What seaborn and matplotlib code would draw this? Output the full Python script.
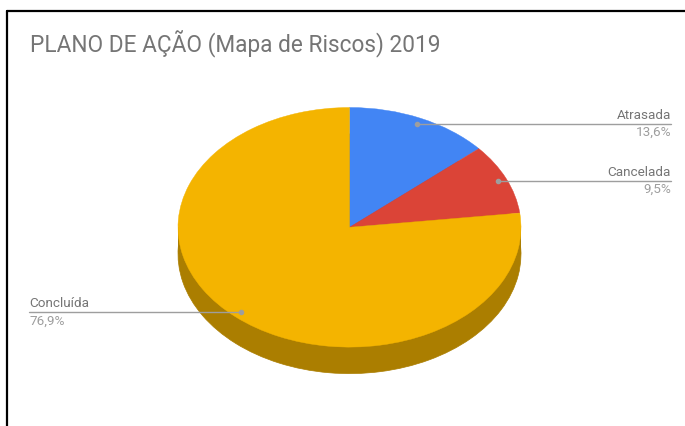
import numpy as np
import matplotlib
matplotlib.use("Agg")
import matplotlib.pyplot as plt
from matplotlib.patches import Rectangle
from matplotlib.lines import Line2D
import seaborn as sns

# data
labels = ["Atrasada", "Cancelada", "Concluída"]
values = [13.6, 9.5, 76.9]
colors = ["#4285F4", "#DB4437", "#F4B400"]
side_colors = ["#2E5DAA", "#992F26", "#AB7E00"]
title = "PLANO DE AÇÃO (Mapa de Riscos) 2019"

sns.set_theme(style="white")
plt.rcParams['font.family'] = ['Roboto', 'DejaVu Sans']

W, H = 685, 426
fig = plt.figure(figsize=(W / 100, H / 100), dpi=100)
fig.patch.set_facecolor("white")

# pie box in pixels
cx, rx = 349.5, 171.5
top, ry, depth = 107.5, 119.8, 26.5
d = depth / ry
ax = fig.add_axes([(cx - rx) / W, (H - (top + 2 * ry + depth)) / H,
                   2 * rx / W, (2 * ry + depth) / H])

# side (bottom disk + band)
ax.pie(values, colors=side_colors, startangle=90, counterclock=False,
       center=(0, -d), radius=1,
       wedgeprops=dict(linewidth=0.5, edgecolor=side_colors[2], zorder=1))
ax.add_patch(Rectangle((-1, -d), 2, d, facecolor=side_colors[2],
                       edgecolor="none", zorder=1))
# top disk
wedges, _ = ax.pie(values, colors=colors, startangle=90, counterclock=False,
                   radius=1, wedgeprops=dict(linewidth=0, zorder=2))
for w in wedges:
    w.set_zorder(3)
    w.set_edgecolor(w.get_facecolor())
    w.set_linewidth(0.3)

ax.set_aspect('auto')
ax.set_xlim(-1, 1)
ax.set_ylim(-1 - d, 1)
ax.axis('off')

# leader lines and labels
cum = np.cumsum([0] + values)
mids = (cum[:-1] + cum[1:]) / 2 / 100 * 2 * np.pi
line_col = "#9E9E9E"
for lab, val, ang in zip(labels, values, mids):
    px = 0.95 * np.sin(ang)
    py = 0.95 * np.cos(ang)
    if px >= 0:
        xend = (671 - cx) / rx
        ha = 'right'
    else:
        xend = (29 - cx) / rx
        ha = 'left'
    ax.plot([px, xend], [py, py], color=line_col, lw=1, clip_on=False, zorder=5)
    ax.plot([px], [py], 'o', color=line_col, ms=3, clip_on=False, zorder=5)
    ax.annotate(lab, xy=(xend, py), xytext=(0, 1.5), textcoords='offset points',
                ha=ha, va='bottom', fontsize=9.7, color="#757575",
                annotation_clip=False)
    ax.annotate(f"{val:.1f}%".replace(".", ","), xy=(xend, py), xytext=(0, -1.5),
                textcoords='offset points', ha=ha, va='top', fontsize=9.7,
                color="#9E9E9E", annotation_clip=False)

fig.text(30 / W, 1 - 44 / H, title, ha='left', va='center', fontsize=16.3,
         color="#757575")

# frame lines
fig.add_artist(Line2D([7 / W, 1], [1 - 11 / H, 1 - 11 / H], color="black", lw=1.6))
fig.add_artist(Line2D([7 / W, 7 / W], [0, 1 - 11 / H], color="black", lw=1.6))

fig.savefig("out.png", dpi=100, facecolor="white")
